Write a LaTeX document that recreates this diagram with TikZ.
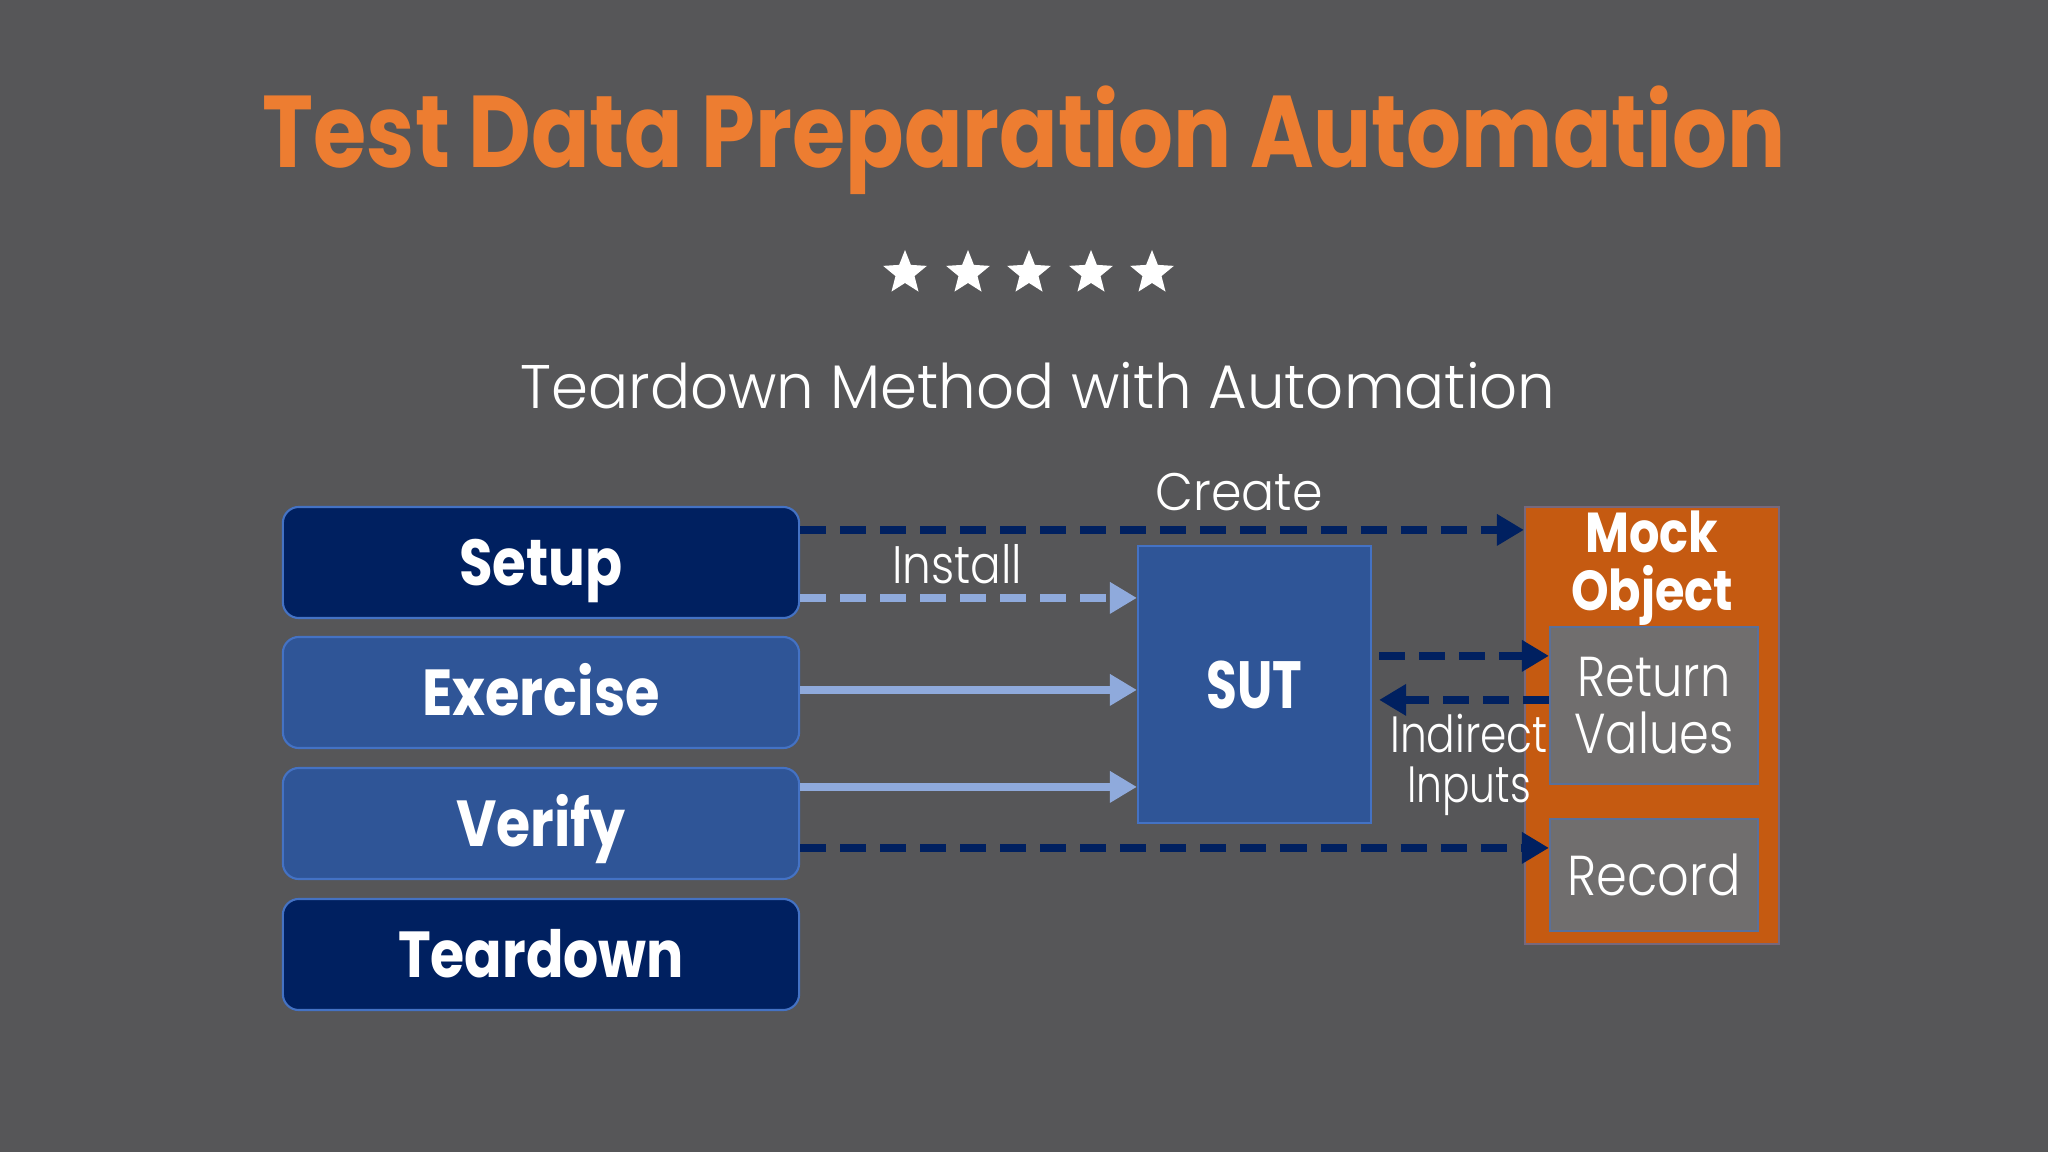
\documentclass[tikz,border=0pt]{standalone}
\usepackage{fontspec}
\usepackage{graphicx}
\setmainfont{Poppins}
\newfontfamily\lightfont{Poppins Light}
\usetikzlibrary{arrows.meta,shapes.geometric,calc}
\newcommand{\sqz}[2][0.85]{\scalebox{#1}[1]{#2}}
\definecolor{bg}{HTML}{565658}
\definecolor{navy}{HTML}{002060}
\definecolor{midblue}{HTML}{2F5597}
\definecolor{edgeblue}{HTML}{4472C4}
\definecolor{lightblue}{HTML}{8FAADC}
\definecolor{titleorange}{HTML}{ED7D31}
\definecolor{mockorange}{HTML}{C55A11}
\definecolor{boxgray}{HTML}{706E6E}
\begin{document}
\begin{tikzpicture}[x=0.01cm,y=-0.01cm,
  phase/.style={draw=edgeblue,line width=0.6pt,rounded corners=0.16cm,minimum width=5.16cm,minimum height=1.11cm,text=white,text height=13pt,text depth=0pt,font=\bfseries\fontsize{18.5}{20}\selectfont},
  darkphase/.style={phase,fill=navy},
  lightphase/.style={phase,fill=midblue},
  sutbox/.style={draw=edgeblue,line width=0.6pt,fill=midblue,minimum width=2.33cm,minimum height=2.77cm,text=white,font=\bfseries\fontsize{19}{22}\selectfont},
  mockbox/.style={draw=edgeblue!60!mockorange,line width=0.6pt,fill=mockorange,minimum width=2.54cm,minimum height=4.37cm},
  graybox/.style={draw=edgeblue!50!boxgray,line width=0.6pt,fill=boxgray,minimum width=2.08cm,text=white,font=\lightfont\fontsize{16}{16.4}\selectfont,align=center},
  darkdash/.style={draw=navy,line width=2.4pt,dash pattern=on 0.26cm off 0.14cm,-{Triangle[length=0.27cm,width=0.3cm]}},
  lightdash/.style={draw=lightblue,line width=2.4pt,dash pattern=on 0.26cm off 0.14cm,-{Triangle[length=0.27cm,width=0.3cm]}},
  lightsolid/.style={draw=lightblue,line width=2.2pt,-{Triangle[length=0.27cm,width=0.3cm]}},
  lbl/.style={text=white,font=\lightfont\fontsize{15}{18}\selectfont,inner sep=0pt},
  staricon/.style={star,star points=5,star point ratio=2.3,fill=white,draw=none,minimum size=0.46cm,inner sep=0pt}
]
\fill[bg] (0,0) rectangle (2048,1152);
\useasboundingbox (0,0) rectangle (2048,1152);

% title
\node[text=titleorange,font=\bfseries\fontsize{29}{34}\selectfont,inner sep=0pt] (title) at (1024,140) {\sqz[0.846]{Test Data Preparation Automation}};
% stars
\foreach \i/\xx in {1/905,2/968,3/1029,4/1091,5/1152}
  \node[staricon] (star\i) at (\xx,273) {};
% subtitle
\node[text=white,font=\lightfont\fontsize{17.5}{20}\selectfont,inner sep=0pt] (subtitle) at (1038,386) {\sqz[0.966]{Teardown Method with Automation}};

% phases
\node[darkphase] (setup) at (541,562.5) {\sqz[0.84]{Setup}};
\node[lightphase] (exercise) at (541,692.5) {\sqz[0.86]{Exercise}};
\node[lightphase] (verify) at (541,823.5) {\sqz[0.85]{Verify}};
\node[darkphase] (teardown) at (541,954.5) {\sqz[0.85]{Teardown}};

% SUT
\node[sutbox] (sut) at (1254.5,684.5) {\sqz[0.75]{SUT}};

% mock object
\node[mockbox] (mock) at (1652,725.5) {};
\node[text=white,font=\bfseries\fontsize{16}{16.4}\selectfont,align=center,inner sep=0pt] (mocklabel) at (1652,568) {\sqz{Mock}\\\sqz{Object}};
\node[graybox,minimum height=1.57cm] (retval) at (1654,705.5) {\sqz{Return}\\\sqz{Values}};
\node[graybox,minimum height=1.12cm] (record) at (1654,875) {\sqz[0.88]{Record}};

% connectors
\coordinate (c1) at ($(setup.north east)+(0,24)$);
\coordinate (c2) at ($(setup.north east)+(0,92)$);
\coordinate (c3) at ($(exercise.north east)+(0,54)$);
\coordinate (c4) at ($(verify.north east)+(0,20)$);
\coordinate (c5) at ($(verify.north east)+(0,81)$);
\coordinate (c6) at ($(sut.north east)+(7,111)$);
\coordinate (c7) at ($(retval.north west)+(0,74)$);

\draw[darkdash] (c1) -- (c1 -| mock.west);
\draw[lightdash] (c2) -- (c2 -| sut.west);
\draw[lightsolid] (c3) -- (c3 -| sut.west);
\draw[lightsolid] (c4) -- (c4 -| sut.west);
\draw[darkdash] (c5) -- (c5 -| record.west);
\draw[darkdash] (c6) -- (c6 -| retval.west);
\draw[darkdash] (c7) -- ($(c7 -| sut.east)+(7,0)$);

% labels
\node[lbl] (createlbl) at (1239,492) {\sqz[0.93]{Create}};
\node[lbl] (installlbl) at (957,564) {\sqz[0.86]{Install}};
\node[lbl,align=center,font=\lightfont\fontsize{14.5}{14.2}\selectfont] (indirectlbl) at (1469,765) {\sqz[0.83]{Indirect}\\\sqz[0.8]{Inputs}};
\end{tikzpicture}
\end{document}
